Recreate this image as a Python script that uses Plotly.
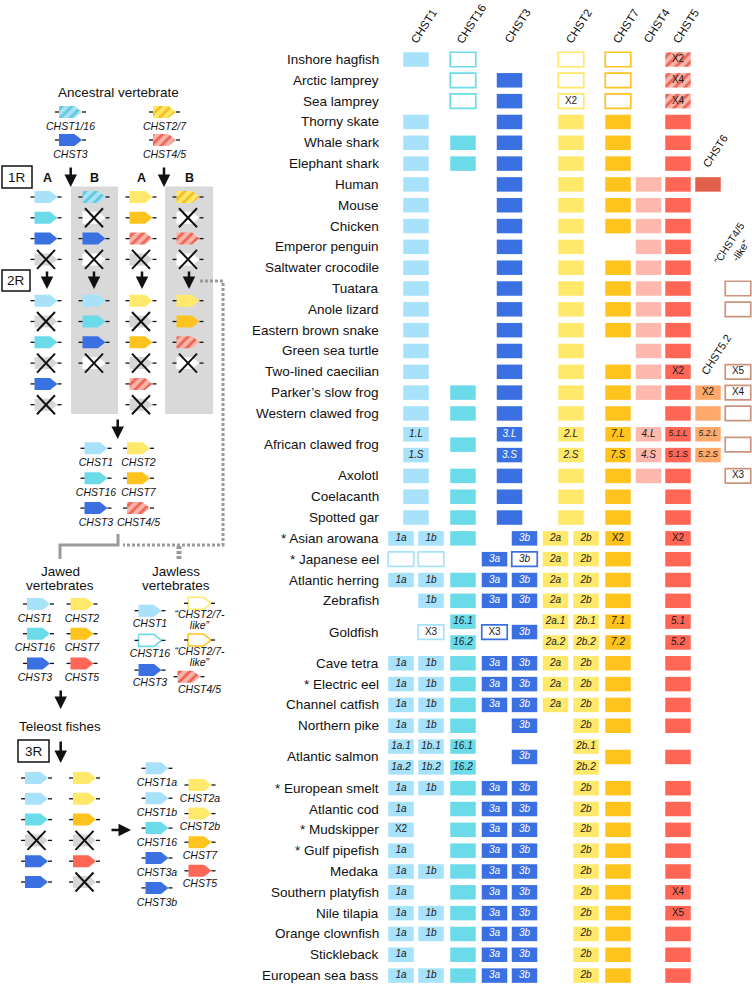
import plotly.graph_objects as go

# ---------------------------------------------------------------- data
SPECIES = [
    "Inshore hagfish", "Arctic lamprey", "Sea lamprey", "Thorny skate", "Whale shark",
    "Elephant shark", "Human", "Mouse", "Chicken", "Emperor penguin",
    "Saltwater crocodile", "Tuatara", "Anole lizard", "Eastern brown snake",
    "Green sea turtle", "Two-lined caecilian", "Parker\u2019s slow frog",
    "Western clawed frog", "African clawed frog", "Axolotl", "Coelacanth",
    "Spotted gar", "* Asian arowana", "* Japanese eel", "Atlantic herring",
    "Zebrafish", "Goldfish", "Cave tetra", "* Electric eel", "Channel catfish",
    "Northern pike", "Atlantic salmon", "* European smelt", "Atlantic cod",
    "* Mudskipper", "* Gulf pipefish", "Medaka", "Southern platyfish",
    "Nile tilapia", "Orange clownfish", "Stickleback", "European sea bass",
]
SPLIT_ROWS = ["African clawed frog", "Goldfish", "Atlantic salmon"]

HEADERS = ["CHST1", "CHST16", "CHST3", "CHST2", "CHST7", "CHST4", "CHST5"]

# cell codes: "" absent, "#" present, "o" outlined, "h" hatched; ":" label(s), "/" = two sub-rows
CHST1 = ["#", "", "", "#", "#", "#", "#", "#", "#", "#", "#", "#", "#", "#", "#", "#", "#", "#",
         "#:1.L/1.S", "#", "#", "#",
         "", "", "", "", "", "", "", "", "", "", "", "", "", "", "", "", "", "", "", ""]
CHST1a = ["", "", "", "", "", "", "", "", "", "", "", "", "", "", "", "", "", "", "", "", "", "",
          "#:1a", "o", "#:1a", "", "", "#:1a", "#:1a", "#:1a", "#:1a", "#:1a.1/1a.2", "#:1a",
          "#:1a", "#:X2", "#:1a", "#:1a", "#:1a", "#:1a", "#:1a", "#:1a", "#:1a"]
CHST1b = ["", "", "", "", "", "", "", "", "", "", "", "", "", "", "", "", "", "", "", "", "", "",
          "#:1b", "o", "#:1b", "#:1b", "o:X3", "#:1b", "#:1b", "#:1b", "#:1b", "#:1b.1/1b.2", "#:1b",
          "", "", "", "#:1b", "", "#:1b", "#:1b", "", "#:1b"]
CHST16 = ["o", "o", "o", "", "#", "#", "", "", "", "", "", "", "", "", "", "", "#", "#", "#", "#", "#", "#",
          "#", "", "#", "#", "#:16.1/16.2", "#", "#", "#", "#", "#:16.1/16.2", "#", "#", "#", "#",
          "#", "#", "#", "#", "#", "#"]
CHST3 = ["", "#", "#", "#", "#", "#", "#", "#", "#", "#", "#", "#", "#", "#", "#", "#", "#", "#",
         "#:3.L/3.S", "#", "#", "#",
         "", "", "", "", "", "", "", "", "", "", "", "", "", "", "", "", "", "", "", ""]
CHST3a = ["", "", "", "", "", "", "", "", "", "", "", "", "", "", "", "", "", "", "", "", "", "",
          "", "#:3a", "#:3a", "#:3a", "o:X3", "#:3a", "#:3a", "#:3a", "", "", "#:3a", "#:3a", "#:3a",
          "#:3a", "#:3a", "#:3a", "#:3a", "#:3a", "#:3a", "#:3a"]
CHST3b = ["", "", "", "", "", "", "", "", "", "", "", "", "", "", "", "", "", "", "", "", "", "",
          "#:3b", "o:3b", "#:3b", "#:3b", "#:3b", "#:3b", "#:3b", "#:3b", "#:3b", "#:3b", "#:3b",
          "#:3b", "#:3b", "#:3b", "#:3b", "#:3b", "#:3b", "#:3b", "#:3b", "#:3b"]
CHST2 = ["o", "o", "o:X2", "#", "#", "#", "#", "#", "#", "#", "#", "#", "#", "#", "#", "#", "#", "#",
         "#:2.L/2.S", "#", "#", "#",
         "", "", "", "", "", "", "", "", "", "", "", "", "", "", "", "", "", "", "", ""]
CHST2a = ["", "", "", "", "", "", "", "", "", "", "", "", "", "", "", "", "", "", "", "", "", "",
          "#:2a", "#:2a", "#:2a", "#:2a", "#:2a.1/2a.2", "#:2a", "#:2a", "#:2a", "", "", "", "",
          "", "", "", "", "", "", "", ""]
CHST2b = ["", "", "", "", "", "", "", "", "", "", "", "", "", "", "", "", "", "", "", "", "", "",
          "#:2b", "#:2b", "#:2b", "#:2b", "#:2b.1/2b.2", "#:2b", "#:2b", "#:2b", "#:2b", "#:2b.1/2b.2",
          "#:2b", "#:2b", "#:2b", "#:2b", "#:2b", "#:2b", "#:2b", "#:2b", "#:2b", "#:2b"]
CHST7 = ["o", "o", "o", "#", "#", "#", "#", "#", "#", "", "#", "#", "#", "#", "", "#", "#", "#",
         "#:7.L/7.S", "#", "#", "#",
         "#:X2", "#", "#", "#", "#:7.1/7.2", "#", "#", "#", "#", "#", "#", "#", "#", "#", "#",
         "#", "#", "#", "#", "#"]
CHST4 = ["", "", "", "", "", "", "#", "#", "#", "#", "#", "#", "#", "#", "#", "#", "#", "",
         "#:4.L/4.S", "#", "", "",
         "", "", "", "", "", "", "", "", "", "", "", "", "", "", "", "", "", "", "", ""]
CHST5 = ["h:X2", "h:X4", "h:X4", "#", "#", "#", "#", "#", "#", "#", "#", "#", "#", "#", "#", "#:X2",
         "#", "#", "#:5.1.L/5.1.S", "#", "#", "#",
         "#:X2", "#", "#", "#", "#:5.1/5.2", "#", "#", "#", "#", "#", "#", "#", "#", "#", "#",
         "#:X4", "#:X5", "#", "#", "#"]
CHST6 = ["", "", "", "", "", "", "#", "", "", "", "", "", "", "", "", "", "", "", "", "", "", "",
         "", "", "", "", "", "", "", "", "", "", "", "", "", "", "", "", "", "", "", ""]
CHST5_2 = ["", "", "", "", "", "", "", "", "", "", "", "", "", "", "", "", "#:X2", "#",
           "#:5.2.L/5.2.S", "", "", "",
           "", "", "", "", "", "", "", "", "", "", "", "", "", "", "", "", "", "", "", ""]
CHST45_LIKE = ["", "", "", "", "", "", "", "", "", "", "", "o", "o", "", "", "o:X5", "o:X4", "o",
               "o", "o:X3", "", "",
               "", "", "", "", "", "", "", "", "", "", "", "", "", "", "", "", "", "", "", ""]

# left-hand schematic: gene states
ANCESTRAL = [("CHST1/16", "h116"), ("CHST3", "c3"), ("CHST2/7", "h27"), ("CHST4/5", "h45")]
ROUND1 = [["c1", "c16", "c3", "x"], ["h116", "x", "c3", "x"],
          ["c2", "c7", "h45", "x"], ["h27", "x", "h45", "x"]]
ROUND2 = [["c1", "x", "c16", "x", "c3", "x"], ["c1", "c16", "c3", "x"],
          ["c2", "x", "c7", "x", "h45", "x"], ["c2", "c7", "h45", "x"]]
AFTER_2R = [[("CHST1", "c1"), ("CHST16", "c16"), ("CHST3", "c3")],
            [("CHST2", "c2"), ("CHST7", "c7"), ("CHST4/5", "h45")]]
JAWED = [[("CHST1", "c1"), ("CHST16", "c16"), ("CHST3", "c3")],
         [("CHST2", "c2"), ("CHST7", "c7"), ("CHST5", "c5")]]
JAWLESS = [[("CHST1", "c1"), ("CHST16", "o16"), ("CHST3", "c3")],
           [("\u201cCHST2/7-|like\u201d", "o2"), ("\u201cCHST2/7-|like\u201d", "o7"), ("CHST4/5", "h45")]]
ROUND3 = [["c1", "c1", "c16", "x", "c3", "c3"], ["c2", "c2", "c7", "x", "c5", "x"]]
TELEOST = [[("CHST1a", "c1"), ("CHST1b", "c1"), ("CHST16", "c16"), ("CHST3a", "c3"), ("CHST3b", "c3")],
           [("CHST2a", "c2"), ("CHST2b", "c2"), ("CHST7", "c7"), ("CHST5", "c5")]]

# ---------------------------------------------------------------- styling / layout
FONT = "Liberation Sans, Arial, Helvetica, sans-serif"
COLORS = {
    "CHST1": "#A7E1FA", "CHST16": "#6CDBE9", "CHST3": "#3B70E2", "CHST2": "#FFE86A",
    "CHST7": "#FFC31E", "CHST4": "#FFB8AD", "CHST5": "#FF6656", "CHST6": "#E0604C",
    "CHST5_2": "#FFAA6C", "LIKE": "#C99580",
}
HATCH_BG, HATCH_FG = "#F8B4A9", "#EE6353"

COLUMNS = [  # (values, colour key, x pixel)
    (CHST1, "CHST1", 416), (CHST1a, "CHST1", 401), (CHST1b, "CHST1", 431),
    (CHST16, "CHST16", 463), (CHST3, "CHST3", 509.5), (CHST3a, "CHST3", 494.5),
    (CHST3b, "CHST3", 524.5), (CHST2, "CHST2", 571), (CHST2a, "CHST2", 555.5),
    (CHST2b, "CHST2", 586), (CHST7, "CHST7", 618), (CHST4, "CHST4", 648.5),
    (CHST5, "CHST5", 678), (CHST6, "CHST6", 708), (CHST5_2, "CHST5_2", 708),
    (CHST45_LIKE, "LIKE", 738),
]
HEADER_X = [416, 463, 509.5, 571, 618, 648.5, 678]
ROW_Y0, ROW_STEP = 59.5, 20.82
CELL_W, CELL_H = 25.5, 14.5

fig = go.Figure()
annotations = []
shapes = []

# row positions
row_center, row_sub = [], []
slot = 0
for name in SPECIES:
    if name in SPLIT_ROWS:
        row_sub.append((ROW_Y0 + slot * ROW_STEP, ROW_Y0 + (slot + 1) * ROW_STEP))
        row_center.append(ROW_Y0 + (slot + 0.5) * ROW_STEP)
        slot += 2
    else:
        y = ROW_Y0 + slot * ROW_STEP
        row_sub.append((y, y))
        row_center.append(y)
        slot += 1

texts = {"it_dark": [], "it_white": [], "plain": [], "small": []}
for values, ckey, cx in COLUMNS:
    groups = {"#": ([], []), "o": ([], []), "h": ([], [])}
    for i, code in enumerate(values):
        if not code:
            continue
        style, _, lab = code.partition(":")
        labels = lab.split("/") if lab else [""]
        if len(labels) == 2:
            ys = list(row_sub[i])
        else:
            ys = [row_center[i]]
        for y, t in zip(ys, labels):
            groups[style][0].append(cx)
            groups[style][1].append(y - CELL_H / 2)
            if t:
                if t.startswith("X"):
                    texts["plain"].append((cx, y, t))
                elif len(t) >= 5:
                    texts["small"].append((cx, y, t))
                elif style == "#" and ckey == "CHST3":
                    texts["it_white"].append((cx, y, t))
                else:
                    texts["it_dark"].append((cx, y, t))
    col = COLORS[ckey]
    for style, (xs, bases) in groups.items():
        if not xs:
            continue
        if style == "#":
            marker = dict(color=col, line=dict(width=0))
        elif style == "o":
            marker = dict(color="white", line=dict(color=col, width=1.7))
        else:
            marker = dict(color=HATCH_BG, line=dict(width=0),
                          pattern=dict(shape="/", bgcolor=HATCH_BG, fgcolor=HATCH_FG,
                                       size=7, solidity=0.4, fillmode="replace"))
        fig.add_trace(go.Bar(x=xs, y=[CELL_H] * len(xs), base=bases, width=CELL_W,
                             marker=marker, hoverinfo="skip", showlegend=False))

for key, (size, style, color) in {"it_dark": (10, "italic", "#1a1a1a"),
                                   "it_white": (10, "italic", "white"),
                                   "plain": (10, "normal", "#1a1a1a"),
                                   "small": (8.5, "italic", "#1a1a1a")}.items():
    pts = texts[key]
    if pts:
        fig.add_trace(go.Scatter(x=[p[0] for p in pts], y=[p[1] for p in pts],
                                 text=[p[2] for p in pts], mode="text",
                                 textfont=dict(family=FONT, size=size, color=color, style=style),
                                 hoverinfo="skip", showlegend=False))

# species labels
for name, y in zip(SPECIES, row_center):
    annotations.append(dict(x=381, y=y, text=name, showarrow=False, xanchor="right",
                            yanchor="middle", font=dict(family=FONT, size=13.5, color="#111")))
# column headers
for h, x in zip(HEADERS, HEADER_X):
    annotations.append(dict(x=x + 8, y=48, text=h, showarrow=False, textangle=-57,
                            xanchor="center", yanchor="bottom",
                            font=dict(family=FONT, size=11.5, color="#111")))
annotations.append(dict(x=715, y=172, text="CHST6", showarrow=False, textangle=-57,
                        xanchor="center", yanchor="bottom", font=dict(family=FONT, size=11, color="#111")))
annotations.append(dict(x=716, y=380, text="CHST5.2", showarrow=False, textangle=-57,
                        xanchor="center", yanchor="bottom", font=dict(family=FONT, size=11, color="#111")))
annotations.append(dict(x=735, y=277, text="\u201cCHST4/5<br>-like\u201d", showarrow=False, textangle=-57,
                        xanchor="center", yanchor="bottom", font=dict(family=FONT, size=10.5, color="#111")))

# ---------------------------------------------------------------- schematic helpers
GENE_STYLE = {
    "c1": ("solid", COLORS["CHST1"], None), "c16": ("solid", COLORS["CHST16"], None),
    "c3": ("solid", COLORS["CHST3"], None), "c2": ("solid", COLORS["CHST2"], None),
    "c7": ("solid", COLORS["CHST7"], None), "c5": ("solid", COLORS["CHST5"], None),
    "h116": ("hatch", COLORS["CHST1"], "#62C9DA"), "h27": ("hatch", COLORS["CHST2"], "#F7BE1E"),
    "h45": ("hatch", HATCH_BG, HATCH_FG),
    "o16": ("outline", COLORS["CHST16"], None), "o2": ("outline", COLORS["CHST2"], None),
    "o7": ("outline", COLORS["CHST7"], None),
    "xg": ("solid", "#D6D6D6", None), "xw": ("solid", "white", None),
}
polys = {k: ([], []) for k in GENE_STYLE}
dash_x, dash_y, cross_x, cross_y = [], [], [], []
labels_it = []


def add_gene(cx, cy, code, panel=False):
    key = code
    if code == "x":
        key = "xw" if panel else "xg"
        for a, b in ((-9, -9.5), (-9, 9.5)):
            cross_x.extend([cx + a, cx - a, None])
            cross_y.extend([cy + b, cy - b, None])
    px, py = polys[key]
    px.extend([cx - 11.5, cx + 4, cx + 11.5, cx + 4, cx - 11.5, cx - 11.5, None])
    py.extend([cy - 6, cy - 6, cy, cy + 6, cy + 6, cy - 6, None])
    dash_x.extend([cx - 15.5, cx - 11.5, None, cx + 11.5, cx + 15.5, None])
    dash_y.extend([cy, cy, None, cy, cy, None])


def add_labeled(cx, cy, name, code, dy=15, lx=None):
    add_gene(cx, cy, code)
    parts = name.split("|")
    for k, p in enumerate(parts):
        labels_it.append((cx if lx is None else lx, cy + dy + k * 11, p))


# ancestral
for (name, code), cx, cy in zip(ANCESTRAL, [70.5, 70.5, 164.5, 164.5], [112, 140, 112, 140]):
    add_labeled(cx, cy, name, code)
# grey panels for B copies
for x0, x1 in ((71, 118), (165, 213)):
    shapes.append(dict(type="rect", x0=x0, x1=x1, y0=186.5, y1=414, fillcolor="#D9D9D9",
                       line=dict(width=0), layer="below"))
R1_X = [46, 94, 141, 188]
for ci, colstate in enumerate(ROUND1):
    for ri, code in enumerate(colstate):
        add_gene(R1_X[ci], 197 + ri * 20.8, code, panel=(ci % 2 == 1))
for ci, colstate in enumerate(ROUND2):
    for ri, code in enumerate(colstate):
        add_gene(R1_X[ci], 300.7 + ri * 20.8, code, panel=(ci % 2 == 1))
for ci, col in enumerate(AFTER_2R):
    for ri, (name, code) in enumerate(col):
        add_labeled([96, 138.5][ci], 448.3 + ri * 29.9, name, code)
for ci, col in enumerate(JAWED):
    for ri, (name, code) in enumerate(col):
        add_labeled([38.5, 82][ci], 604 + ri * 29.7, name, code, lx=[35, 82][ci])
for ri, (name, code) in enumerate(JAWLESS[0]):
    add_labeled(150, 610.7 + ri * 29.7, name, code, dy=13.5)
for (name, code), cx, cy, dy in zip(JAWLESS[1], [199.5, 199.5, 189], [603.3, 640, 676.7], [12.5, 12.5, 14]):
    add_labeled(cx, cy, name, code, dy=dy, lx=199.5)
for ci, colstate in enumerate(ROUND3):
    for ri, code in enumerate(colstate):
        add_gene([36.5, 84.5][ci], 778 + ri * 20.8, code)
for ri, (name, code) in enumerate(TELEOST[0]):
    add_labeled(157, 768.3 + ri * 29.9, name, code, dy=15.5)
for ri, (name, code) in enumerate(TELEOST[1]):
    add_labeled(200, 785 + ri * 28.6, name, code, dy=14)

# connectors
fig.add_trace(go.Scatter(x=[200, 223, 223, 123], y=[281, 281, 545, 545], mode="lines",
                         line=dict(color="#9A9A9A", width=3, dash="3px,2px"),
                         hoverinfo="skip", showlegend=False))
fig.add_trace(go.Scatter(x=[179, 179], y=[546, 559], mode="lines",
                         line=dict(color="#9A9A9A", width=5, dash="3px,2px"),
                         hoverinfo="skip", showlegend=False))
fig.add_trace(go.Scatter(x=[118, 118, 60, 60], y=[534, 545, 545, 559], mode="lines",
                         line=dict(color="#9A9A9A", width=3),
                         hoverinfo="skip", showlegend=False))

# gene polygons
for key, (kind, fillc, stripe) in GENE_STYLE.items():
    px, py = polys[key]
    if not px:
        continue
    kw = dict(x=px, y=py, mode="lines", fill="toself", hoverinfo="skip", showlegend=False)
    if kind == "solid":
        kw.update(fillcolor=fillc, line=dict(width=0, color=fillc))
    elif kind == "outline":
        kw.update(fillcolor="white", line=dict(width=1.6, color=fillc))
    else:
        kw.update(fillcolor=fillc, line=dict(width=0, color=fillc),
                  fillpattern=dict(shape="/", bgcolor=fillc, fgcolor=stripe, size=7,
                                   solidity=0.4, fillmode="replace"))
    fig.add_trace(go.Scatter(**kw))
fig.add_trace(go.Scatter(x=dash_x, y=dash_y, mode="lines", line=dict(color="#111", width=1.3),
                         hoverinfo="skip", showlegend=False))
fig.add_trace(go.Scatter(x=cross_x, y=cross_y, mode="lines", line=dict(color="#111", width=2),
                         hoverinfo="skip", showlegend=False))
fig.add_trace(go.Scatter(x=[p[0] for p in labels_it], y=[p[1] for p in labels_it],
                         text=[p[2] for p in labels_it], mode="text",
                         textfont=dict(family=FONT, size=10.5, color="#111", style="italic"),
                         hoverinfo="skip", showlegend=False))

# titles and boxes
for txt, x, y in [("Ancestral vertebrate", 118, 92), ("Jawed", 60, 571.5), ("vertebrates", 60, 585.5),
                  ("Jawless", 176, 571.5), ("vertebrates", 176, 585.5), ("Teleost fishes", 60, 726)]:
    annotations.append(dict(x=x, y=y, text=txt, showarrow=False, xanchor="center", yanchor="middle",
                            font=dict(family=FONT, size=13.5, color="#111")))
for txt, x in zip(["A", "B", "A", "B"], [47, 94, 141, 189]):
    annotations.append(dict(x=x, y=178, text="<b>" + txt + "</b>", showarrow=False,
                            font=dict(family=FONT, size=12.5, color="#111")))
for txt, x0, x1, y0, y1 in [("1R", 2, 32, 166, 188), ("2R", 2, 30, 270, 291), ("3R", 18, 49, 740, 762)]:
    shapes.append(dict(type="rect", x0=x0, x1=x1, y0=y0, y1=y1, line=dict(color="#111", width=1.5),
                       fillcolor="white"))
    annotations.append(dict(x=(x0 + x1) / 2, y=(y0 + y1) / 2, text=txt, showarrow=False,
                            font=dict(family=FONT, size=13.5, color="#111")))
for (xt, yt, xh, yh) in [(70.7, 166, 70.7, 187), (164, 166, 164, 187),
                         (47, 270, 47, 289), (94, 270, 94, 289), (142, 270, 142, 289), (189, 270, 189, 289),
                         (117.7, 418, 117.7, 439), (60.7, 689, 60.7, 709), (60.7, 740, 60.7, 763),
                         (110, 830, 131, 830)]:
    annotations.append(dict(x=xh, y=yh, ax=xt, ay=yt, xref="x", yref="y", axref="x", ayref="y",
                            showarrow=True, arrowhead=2, arrowsize=1, arrowwidth=2.5,
                            arrowcolor="#111", text=""))

fig.update_layout(
    width=752, height=984, margin=dict(l=0, r=0, t=0, b=0),
    paper_bgcolor="white", plot_bgcolor="white", showlegend=False, barmode="overlay",
    xaxis=dict(range=[0, 752], visible=False, fixedrange=True),
    yaxis=dict(range=[984, 0], visible=False, fixedrange=True),
    annotations=annotations, shapes=shapes,
)
fig.write_html("out.html", config={"displayModeBar": False},
               post_script="document.body.style.margin='0';document.body.style.overflow='hidden';")
